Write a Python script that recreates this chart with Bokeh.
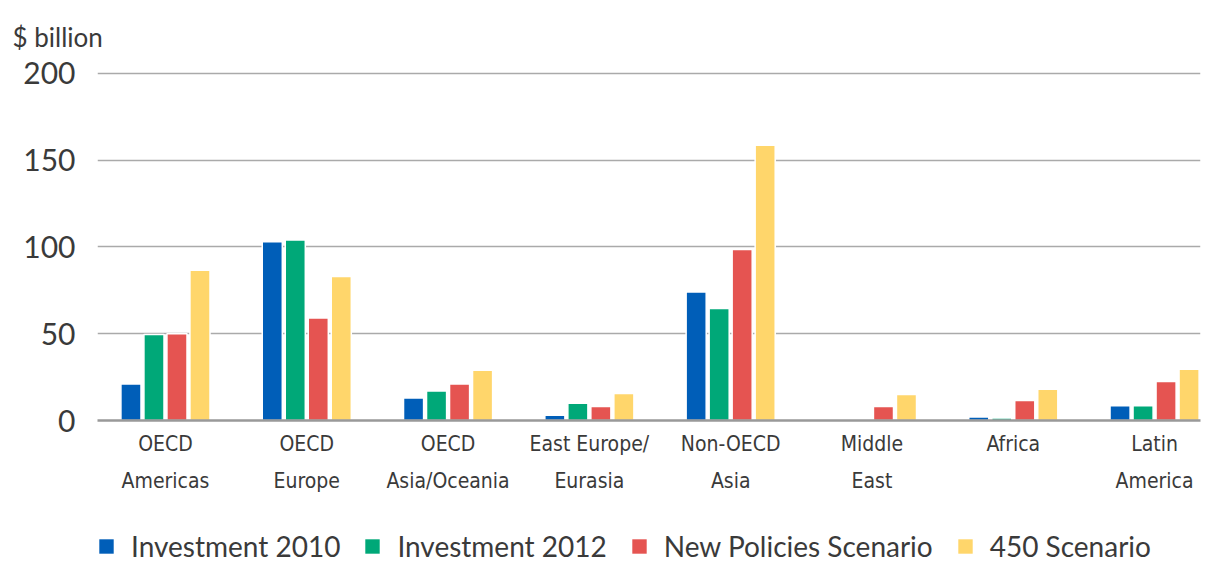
from bokeh.plotting import figure
from bokeh.models import Range1d, FixedTicker, Legend, LegendItem, ColumnDataSource, LinearAxis
from bokeh.layouts import column
from bokeh.embed import file_html
from bokeh.resources import INLINE

categories_line1 = ["OECD", "OECD", "OECD", "East Europe/", "Non-OECD", "Middle", "Africa", "Latin"]
categories_line2 = ["Americas", "Europe", "Asia/Oceania", "Eurasia", "Asia", "East", "", "America"]
inv_2010 = [21, 103, 13, 3, 74, 0, 2, 8.5]
inv_2012 = [49.5, 104, 17, 10, 64.5, 0.5, 1.5, 8.5]
new_policies = [50, 59, 21, 8, 98.5, 8, 11.5, 22.5]
s450 = [86.5, 83, 29, 15.5, 158.5, 15, 18, 29.5]
series_names = ["Investment 2010", "Investment 2012", "New Policies Scenario", "450 Scenario"]
colors = ["#005EB8", "#00A878", "#E55451", "#FFD66B"]
y_ticks = [0, 50, 100, 150, 200]

FONT = "Lato"
COND = "DejaVu Sans Condensed, Roboto"
TXT = "#3a3a3a"
n = len(categories_line1)

p = figure(frame_width=1103, frame_height=349, output_backend="svg", toolbar_location=None,
           x_range=Range1d(-0.481, 7.325), y_range=Range1d(0, 201),
           min_border_left=97, min_border_right=13, min_border_top=0, min_border_bottom=78,
           title="$ billion", x_axis_location=None)
p.outline_line_color = None

p.title.text_font = FONT
p.title.text_font_size = "26px"
p.title.text_font_style = "normal"
p.title.text_color = TXT
p.title.align = "left"
p.title.offset = -85
p.title.standoff = 37

# legend figure (its frame is aligned with the main frame by the column layout)
lf = figure(width=1213, height=80, output_backend="svg", toolbar_location=None,
            x_range=Range1d(100, 101), y_range=Range1d(1000, 1001),
            x_axis_location=None, y_axis_location=None,
            min_border_left=0, min_border_right=0, min_border_top=0, min_border_bottom=0)
lf.outline_line_color = None
lf.grid.grid_line_color = None

step = 0.1628
items = []
for k, (vals, name, col) in enumerate(zip([inv_2010, inv_2012, new_policies, s450], series_names, colors)):
    xs = [i + (k - 1.5) * step for i in range(n)]
    src = ColumnDataSource(dict(x=xs, top=vals))
    p.vbar(x="x", top="top", bottom=0, width=0.142, source=src,
           fill_color=col, line_color="white", line_width=1.5)
    r = lf.vbar(x="x", top="top", bottom=0, width=0.142, source=src,
                fill_color=col, line_color=None, visible=False)
    items.append(LegendItem(label=name, renderers=[r]))

# y axis
p.yaxis.ticker = FixedTicker(ticks=y_ticks)
p.yaxis.axis_line_color = None
p.yaxis.major_tick_line_color = None
p.yaxis.minor_tick_line_color = None
p.yaxis.major_label_text_font = FONT
p.yaxis.major_label_text_font_size = "30px"
p.yaxis.major_label_text_color = TXT
p.yaxis.major_label_standoff = 16

def cat_axis(labels, line, standoff):
    ax = LinearAxis(ticker=FixedTicker(ticks=list(range(n))),
                    major_label_overrides={i: c for i, c in enumerate(labels)})
    ax.axis_line_color = "#999999" if line else None
    ax.axis_line_width = 2.5
    ax.major_tick_line_color = None
    ax.minor_tick_line_color = None
    ax.major_tick_out = 0
    ax.major_tick_in = 0
    ax.minor_tick_out = 0
    ax.minor_tick_in = 0
    ax.major_label_text_font = COND
    ax.major_label_text_font_size = "21px"
    ax.major_label_text_color = TXT
    ax.major_label_standoff = standoff
    return ax

p.add_layout(cat_axis(categories_line1, True, 11), "below")
p.add_layout(cat_axis(categories_line2, False, 10), "below")

p.xgrid.grid_line_color = None
p.ygrid.ticker = FixedTicker(ticks=y_ticks[1:])
p.ygrid.grid_line_color = "#aaaaaa"
p.ygrid.grid_line_width = 1.5

legend = Legend(items=items, orientation="horizontal", location=(0, 15),
                click_policy="none",
                label_text_font=FONT, label_text_font_size="28px", label_text_color=TXT,
                glyph_width=18, glyph_height=18, label_standoff=16, spacing=23,
                padding=0, margin=0, border_line_color=None, background_fill_alpha=0)
lf.add_layout(legend, "center")

layout = column(p, lf, spacing=0)
open("out.html", "w").write(file_html(layout, INLINE))
